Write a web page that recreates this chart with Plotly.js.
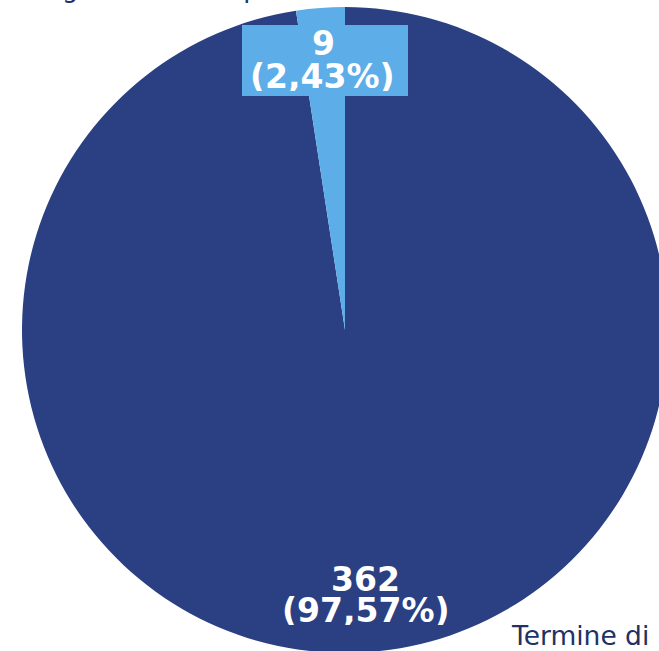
<!DOCTYPE html>
<html>
<head>
<meta charset="utf-8">
<script src="https://cdn.plot.ly/plotly-3.0.1.min.js"></script>
<style>
html,body{margin:0;padding:0;overflow:hidden;background:#fff;}
#chart{width:700px;height:680px;}
</style>
</head>
<body>
<div id="chart"></div>
<script>
const categories = ["Termine di", "Esiti regolari nei tempi"];
const values = [362, 9];
const colors = ["#2B4082", "#5DADE8"];

const W = 700, H = 680;
const px = x => x / W;
const py = y => 1 - y / H;

const total = values.reduce((a, b) => a + b, 0);
const pct = v => (v / total * 100).toFixed(2).replace(".", ",") + "%";

const trace = {
  type: "pie",
  labels: categories,
  values: values,
  sort: false,
  direction: "clockwise",
  rotation: 0,
  marker: {colors: colors, line: {width: 0}},
  textinfo: "none",
  hoverinfo: "none",
  domain: {x: [px(22), px(668)], y: [py(653), py(7)]}
};

const labelFont = {family: "DejaVu Sans", size: 33, color: "#ffffff", weight: "bold"};
const legendFont = {family: "DejaVu Sans", size: 26.5, color: "#203262"};

const annotations = [
  {text: "<b>" + values[1] + "</b>", x: px(323), y: py(43), xanchor: "center", yanchor: "middle"},
  {text: "<b>(" + pct(values[1]) + ")</b>", x: px(322.5), y: py(76), xanchor: "center", yanchor: "middle"},
  {text: "<b>" + values[0] + "</b>", x: px(365.5), y: py(579), xanchor: "center", yanchor: "middle"},
  {text: "<b>(" + pct(values[0]) + ")</b>", x: px(366), y: py(610), xanchor: "center", yanchor: "middle"}
].map(a => Object.assign(a, {xref: "paper", yref: "paper", showarrow: false, height: 30, borderpad: 0, font: labelFont}));

annotations.push({text: categories[0], x: px(509), y: py(635), xref: "paper", yref: "paper",
  xanchor: "left", yanchor: "middle", showarrow: false, font: legendFont});
annotations.push({text: categories[1], x: px(-28.6), y: py(-12), xref: "paper", yref: "paper",
  xanchor: "left", yanchor: "middle", showarrow: false, font: {family: "DejaVu Sans", size: 26, color: "#203262"}});

const layout = {
  width: W, height: H,
  margin: {l: 0, r: 0, t: 0, b: 0},
  paper_bgcolor: "#ffffff",
  showlegend: false,
  shapes: [{type: "rect", xref: "paper", yref: "paper",
    x0: px(242), x1: px(408), y0: py(96), y1: py(25),
    fillcolor: colors[1], line: {width: 0}, layer: "above"}],
  annotations: annotations
};

Plotly.newPlot("chart", [trace], layout, {displayModeBar: false, staticPlot: true});
</script>
</body>
</html>
